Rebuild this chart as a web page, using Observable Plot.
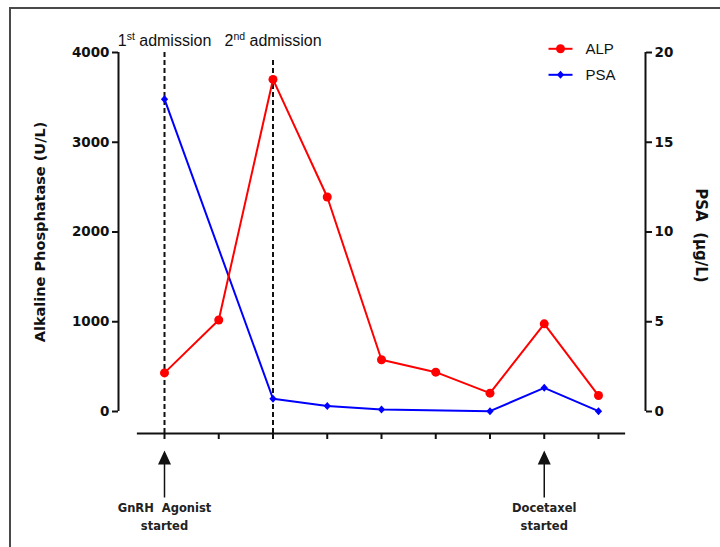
<!DOCTYPE html>
<html><head><meta charset="utf-8">
<script src="https://cdn.jsdelivr.net/npm/d3@7"></script>
<script src="https://cdn.jsdelivr.net/npm/@observablehq/plot@0.6"></script>
<style>
html,body{margin:0;padding:0;background:#fff;overflow:hidden;}
#wrap{position:relative;width:720px;height:547px;overflow:hidden;}
#border{position:absolute;left:9px;top:7px;width:760px;height:600px;border:2px solid #4a4a4a;pointer-events:none;}
</style></head><body>
<div id="wrap"><div id="chart"></div><div id="border"></div></div>
<script>
// ---- data ----
const timepoints = [0, 1, 2, 3, 4, 5, 6, 7, 8];
const alp = [430, 1020, 3700, 2390, 576, 438, 204, 977, 178];
const psa = [17.4, null, 0.71, 0.30, 0.11, null, 0.02, 1.32, 0.02];
const psaToAlp = 200; // right axis 0-20 maps onto left axis 0-4000
const yTicksLeft = [0, 1000, 2000, 3000, 4000];
const yTicksRight = [0, 5, 10, 15, 20];
const admissionAt = [0, 2];
const admissionNum = ["1", "2"];
const admissionSup = ["st", "nd"];
const eventAt = [0, 7];
const eventLabels = ["GnRH\u00a0\u00a0Agonist\nstarted", "Docetaxel\nstarted"];
const seriesNames = ["ALP", "PSA"];
const yTitleLeft = "Alkaline Phosphatase (U/L)";
const yTitleRight = "PSA\u00a0\u00a0(\u00b5g/L)";

// ---- build tables ----
const alpRows = timepoints.map((t, i) => ({t, v: alp[i]}));
const psaRows = timepoints.map((t, i) => ({t, v: psa[i]})).filter(d => d.v != null);

const RED = "#ff0000", BLUE = "#0000ff", INK = "#111";
const seriesColor = [RED, BLUE];
const diamond = {draw(ctx) { ctx.moveTo(0, -4); ctx.lineTo(3.6, 0); ctx.lineTo(0, 4); ctx.lineTo(-3.6, 0); ctx.closePath(); }};
const hline = {draw(ctx) { ctx.moveTo(-12, 0); ctx.lineTo(12, 0); }};
const vtick = {draw(ctx) { ctx.moveTo(0, 0); ctx.lineTo(0, 5.5); }};
const arrowSym = {draw(ctx) {
  ctx.moveTo(0, 0); ctx.lineTo(6.5, 14); ctx.lineTo(-6.5, 14); ctx.closePath();
  ctx.rect(-0.75, 14, 1.5, 33);
}};

const step = 54.25;
const xDomain = [-46 / step, 8 + 47 / step];
const dash = {stroke: INK, strokeWidth: 2, strokeDasharray: "5,3"};
const sans = "'Liberation Sans', Arial, sans-serif";

const legendMarks = seriesNames.flatMap((name, i) => {
  const dy = -3.7 + 26 * i;
  return [
    Plot.dot([name], {x: null, y: null, frameAnchor: "top-left", dx: 442, dy, symbol: hline, stroke: seriesColor[i], strokeWidth: 2, fill: "none"}),
    Plot.dot([name], {x: null, y: null, frameAnchor: "top-left", dx: 442, dy, symbol: i === 0 ? "circle" : diamond, r: 4.5, fill: seriesColor[i], stroke: "none"}),
    Plot.text([name], {frameAnchor: "top-left", dx: 467, dy, text: d => d, textAnchor: "start", lineAnchor: "middle", fontFamily: sans, fontSize: 15, fontWeight: "normal", fill: INK})
  ];
});

const chart = Plot.plot({
  width: 720,
  height: 547,
  marginLeft: 118,
  marginRight: 75,
  marginTop: 52,
  marginBottom: 136,
  style: {fontFamily: "'DejaVu Sans', sans-serif", fontSize: "13.5px", fontWeight: "bold", color: INK, background: "#fff", overflow: "visible"},
  x: {domain: xDomain, axis: null},
  y: {domain: [0, 4000]},
  marks: [
    // admission dashed lines
    Plot.ruleX([admissionAt[0]], {x: d => d, insetTop: 0, insetBottom: -24, ...dash}),
    Plot.ruleX([admissionAt[1]], {x: d => d, insetTop: 8, insetBottom: -24, ...dash}),
    // axes lines
    Plot.ruleX([xDomain[0]], {x: d => d, y1: 0, y2: 4000, stroke: INK, strokeWidth: 2}),
    Plot.ruleX([xDomain[1]], {x: d => d, y1: 0, y2: 4000, stroke: INK, strokeWidth: 2}),
    Plot.axisY(yTicksLeft, {anchor: "left", tickSize: 6, strokeWidth: 2, label: null, fontSize: 13.5, fontWeight: "bold", tickFormat: d => String(d)}),
    Plot.axisY(yTicksRight.map(v => v * psaToAlp), {anchor: "right", tickSize: 6, strokeWidth: 2, label: null, fontSize: 13.5, fontWeight: "bold", tickFormat: d => String(d / psaToAlp)}),
    // x axis (offset below the plot)
    Plot.ruleY([0], {y: d => d, x1: -0.5, x2: 8.5, dy: 22, stroke: INK, strokeWidth: 2}),
    Plot.dot(timepoints, {x: d => d, frameAnchor: "bottom", dy: 22, symbol: vtick, stroke: INK, strokeWidth: 2, fill: "none"}),
    // series
    Plot.line(psaRows, {x: "t", y: d => d.v * psaToAlp, stroke: BLUE, strokeWidth: 2}),
    Plot.line(alpRows, {x: "t", y: "v", stroke: RED, strokeWidth: 2}),
    Plot.dot(psaRows, {x: "t", y: d => d.v * psaToAlp, symbol: diamond, fill: BLUE, stroke: "none"}),
    Plot.dot(alpRows, {x: "t", y: "v", r: 4.5, fill: RED, stroke: "none"}),
    // axis titles
    Plot.text([yTitleLeft], {frameAnchor: "left", dx: -78, rotate: -90, text: d => d, textAnchor: "middle", lineAnchor: "middle", fontSize: 14.5, fontWeight: "bold", fill: INK}),
    Plot.text([yTitleRight], {frameAnchor: "right", dx: 55, dy: 3.5, rotate: 90, text: d => d, textAnchor: "middle", lineAnchor: "middle", fontSize: 15, fontWeight: "bold", fill: INK}),
    // admission labels
    Plot.text(admissionAt, {x: d => d, frameAnchor: "top", dy: -6.3, text: (d, i) => admissionNum[i] + admissionSup[i] + " admission", textAnchor: "middle", lineAnchor: "bottom", fontFamily: sans, fontSize: 16, fontWeight: "normal", fill: INK}),
    // event arrows and labels
    Plot.dot(eventAt, {x: d => d, frameAnchor: "bottom", dy: 39, symbol: arrowSym, fill: INK, stroke: "none"}),
    Plot.text(eventAt, {x: d => d, frameAnchor: "bottom", dy: 118, text: (d, i) => eventLabels[i], textAnchor: "middle", lineAnchor: "bottom", lineHeight: 1.5, fontSize: 11.5, fontWeight: "bold", fill: "#222"}),
    ...legendMarks
  ]
});
document.getElementById("chart").appendChild(chart);

// superscripts on admission labels
const NS = "http://www.w3.org/2000/svg";
admissionAt.forEach((d, i) => {
  const label = admissionNum[i] + admissionSup[i] + " admission";
  const el = Array.from(chart.querySelectorAll("text")).find(t => t.textContent === label);
  if (!el) return;
  el.textContent = "";
  const a = document.createElementNS(NS, "tspan"); a.textContent = admissionNum[i];
  const b = document.createElementNS(NS, "tspan"); b.textContent = admissionSup[i];
  b.setAttribute("dy", "-6"); b.setAttribute("font-size", "10.5");
  const c = document.createElementNS(NS, "tspan"); c.textContent = " admission";
  c.setAttribute("dy", "6");
  el.append(a, b, c);
});
</script>
</body></html>
